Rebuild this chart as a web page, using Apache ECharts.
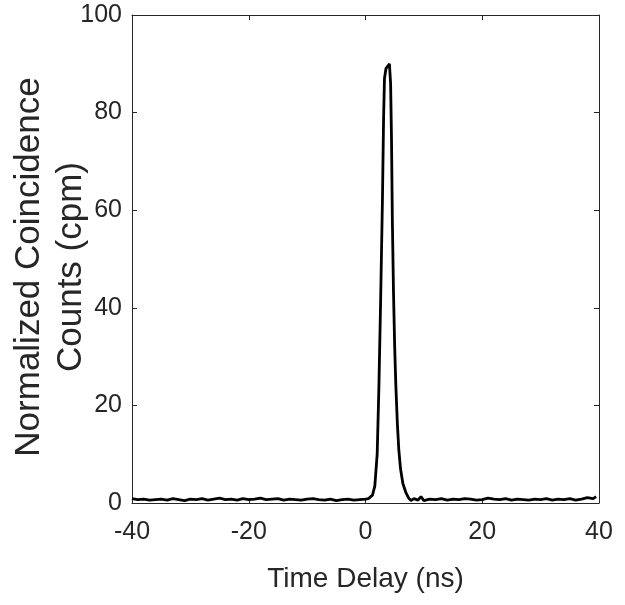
<!DOCTYPE html>
<html>
<head>
<meta charset="utf-8">
<script src="https://cdn.jsdelivr.net/npm/echarts@6/dist/echarts.min.js"></script>
<style>
html, body { margin: 0; padding: 0; background: #fff; }
#main { width: 625px; height: 605px; }
</style>
</head>
<body>
<div id="main"></div>
<script>
// time axis (ns) and normalized coincidence counts (cpm)
var time_delay = [
	-40, -39, -38, -37, -36, -35, -34, -33, -32, -31, -30, -29, -28, -27, -26, -25, -24, -23, -22, -21,
	-20, -19, -18, -17, -16, -15, -14, -13, -12, -11, -10, -9, -8, -7, -6, -5, -4, -3, -2, -1, 0,
	0.5, 0.8, 1.2, 1.6, 2.0, 2.3, 2.6, 2.9, 3.1, 3.25, 3.5, 3.8, 4.1, 4.3, 4.45, 4.6, 4.8, 5.0, 5.2,
	5.45, 5.7, 6.0, 6.4, 6.9, 7.4, 7.8, 8.3, 9, 9.5, 10,
	11, 12, 13, 14, 15, 16, 17, 18, 19, 20, 21, 22, 23, 24, 25, 26, 27, 28, 29, 30,
	31, 32, 33, 34, 35, 36, 37, 38, 39, 39.5
];
var coincidence_counts = [
	0.9, 0.7, 0.8, 0.6, 0.7, 0.8, 0.6, 0.9, 0.7, 0.5, 0.8, 0.7, 0.9, 0.6, 0.8, 1.0, 0.7, 0.8, 0.6, 0.9,
	0.7, 0.8, 1.0, 0.7, 0.8, 0.9, 0.6, 0.8, 0.7, 0.6, 0.8, 0.9, 0.7, 0.6, 0.8, 0.5, 0.7, 0.8, 0.6, 0.7, 0.8,
	0.9, 1.1, 1.6, 3.5, 10, 24, 42, 62, 79, 87, 89, 89.3, 90, 86, 75, 58, 43, 32, 24,
	16.5, 11, 7, 4, 2.2, 1.0, 0.5, 0.9, 0.6, 1.3, 0.5,
	0.8, 0.7, 0.9, 0.6, 0.8, 0.7, 0.9, 0.8, 0.6, 0.7, 1.0, 0.8, 0.7, 0.9, 0.6, 0.8, 0.7, 0.6, 0.8, 0.7,
	0.9, 0.6, 0.8, 0.7, 0.9, 0.6, 0.8, 1.1, 0.9, 1.3
];
var x_ticks = { min: -40, max: 40, interval: 20 };
var y_ticks = { min: 0, max: 100, interval: 20 };

var label_font = "'Liberation Sans', Arial, Helvetica, sans-serif";

var chart = echarts.init(document.getElementById("main"));

var points = [];
for (var i = 0; i < time_delay.length; i++) {
	points.push([time_delay[i], coincidence_counts[i]]);
}

var axis_line = { show: true, onZero: false, lineStyle: { color: '#262626', width: 1 } };
var axis_tick = { show: true, inside: true, length: 5, lineStyle: { color: '#262626' } };
var option = {
	animation: false,
	backgroundColor: '#fff',
	grid: {
		left: 132,
		right: 26,
		top: 15,
		bottom: 102,
		containLabel: false,
		outerBoundsMode: 'none'
	},
	xAxis: [
		{
			type: 'value',
			min: x_ticks.min,
			max: x_ticks.max,
			interval: x_ticks.interval,
			name: 'Time Delay (ns)',
			nameLocation: 'middle',
			nameGap: 62,
			nameMoveOverlap: false,
			nameTextStyle: { fontFamily: label_font, fontSize: 28, color: '#262626' },
			axisLine: axis_line,
			axisTick: axis_tick,
			axisLabel: { fontFamily: label_font, fontSize: 25, color: '#262626', margin: 17 },
			splitLine: { show: false }
		},
		{
			type: 'value',
			position: 'top',
			min: x_ticks.min,
			max: x_ticks.max,
			interval: x_ticks.interval,
			axisLine: axis_line,
			axisTick: axis_tick,
			axisLabel: { show: false },
			splitLine: { show: false }
		}
	],
	yAxis: [
		{
			type: 'value',
			min: y_ticks.min,
			max: y_ticks.max,
			interval: y_ticks.interval,
			name: 'Normalized Coincidence\nCounts (cpm)',
			nameLocation: 'middle',
			nameRotate: 90,
			nameGap: 40,
			nameMoveOverlap: false,
			nameTextStyle: { fontFamily: label_font, fontSize: 35, color: '#262626', lineHeight: 42, align: 'center', padding: [0, 16, 0, 0] },
			axisLine: axis_line,
			axisTick: axis_tick,
			axisLabel: { fontFamily: label_font, fontSize: 25, color: '#262626', margin: 10, padding: [8, 0, 0, 0] },
			splitLine: { show: false }
		},
		{
			type: 'value',
			position: 'right',
			min: y_ticks.min,
			max: y_ticks.max,
			interval: y_ticks.interval,
			axisLine: axis_line,
			axisTick: axis_tick,
			axisLabel: { show: false },
			splitLine: { show: false }
		}
	],
	series: [
		{
			type: 'line',
			data: points,
			showSymbol: false,
			lineStyle: { color: '#000', width: 2.8 },
			smooth: false
		}
	]
};
chart.setOption(option);
</script>
</body>
</html>
